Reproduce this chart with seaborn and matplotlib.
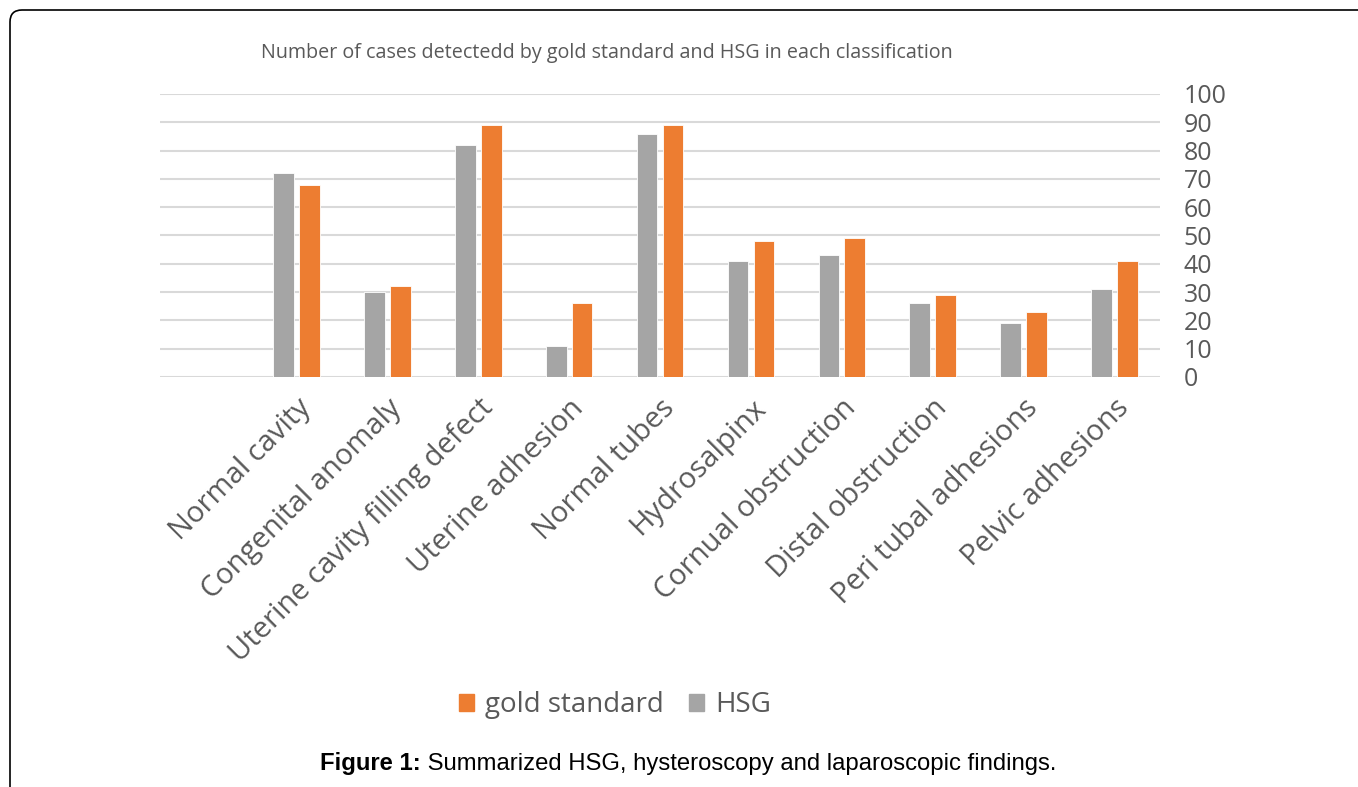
import pandas as pd
import matplotlib
matplotlib.use('Agg')
import matplotlib.pyplot as plt
import matplotlib.patches as mpatches
from matplotlib.transforms import IdentityTransform
import seaborn as sns

# Cases detected per classification
categories = ['Normal cavity', 'Congenital anomaly', 'Uterine cavity filling defect',
              'Uterine adhesion', 'Normal tubes', 'Hydrosalpinx', 'Cornual obstruction',
              'Distal obstruction', 'Peri tubal adhesions', 'Pelvic adhesions']
hsg = [72, 30, 82, 11, 86, 41, 43, 26, 19, 31]
gold_standard = [68, 32, 89, 26, 89, 48, 49, 29, 23, 41]
y_ticks = [0, 10, 20, 30, 40, 50, 60, 70, 80, 90, 100]

df = pd.DataFrame({
    'Classification': categories * 2,
    'Cases': hsg + gold_standard,
    'Method': ['HSG'] * len(categories) + ['gold standard'] * len(categories),
})

sns.set_style('white')
plt.rcParams['font.family'] = ['Open Sans', 'DejaVu Sans']

text_grey = '#595959'
colors = {'HSG': '#A5A5A5', 'gold standard': '#ED7D31'}

fig = plt.figure(figsize=(13.58, 7.87), dpi=100)
ax = fig.add_axes([160 / 1358, 1 - 377 / 787, 1000 / 1358, 283 / 787])

sns.barplot(data=df, x='Classification', y='Cases', hue='Method',
            hue_order=['HSG', 'gold standard'], palette=colors, saturation=1,
            width=0.57, gap=0.2, edgecolor='white', linewidth=0.6,
            legend=False, ax=ax)

ax.set_xlim(-1.5, len(categories) - 0.5)
ax.set_ylim(0, 100)
ax.set_yticks(y_ticks)
ax.yaxis.tick_right()
ax.grid(axis='y', color='#d9d9d9', linewidth=1.5)
ax.set_axisbelow(True)
for s in ax.spines.values():
    s.set_visible(False)
ax.tick_params(axis='y', length=0, labelsize=18, labelcolor=text_grey, pad=17)
ax.tick_params(axis='x', length=0, labelsize=21, labelcolor=text_grey, pad=12)
plt.setp(ax.get_xticklabels(), rotation=45, ha='right', rotation_mode='anchor')
ax.set_xlabel('')
ax.set_ylabel('')

fig.text(607 / 1358, 1 - 53 / 787,
         'Number of cases detectedd by gold standard and HSG in each classification',
         ha='center', va='center', fontsize=14.2, color=text_grey)

handles = [mpatches.Patch(color=colors['gold standard']), mpatches.Patch(color=colors['HSG'])]
fig.legend(handles, ['gold standard', 'HSG'], loc='center', ncol=2, frameon=False,
           bbox_to_anchor=(615 / 1358, 1 - 705 / 787), fontsize=20,
           handlelength=0.55, handleheight=0.55, handletextpad=0.4, columnspacing=0.9,
           labelcolor=text_grey)

# caption: bold label followed by regular text
cap = fig.text(320 / 1358, 1 - 770 / 787, 'Figure 1:', ha='left', va='baseline',
               fontsize=17.2, fontweight='bold', family='Liberation Sans', color='black')
ax.annotate(' Summarized HSG, hysteroscopy and laparoscopic findings.',
            xy=(1, 0), xycoords=cap, ha='left', va='bottom',
            fontsize=17.2, family='Liberation Sans', color='black', annotation_clip=False)

frame = mpatches.FancyBboxPatch((10, -60), 1420, 837,
                                boxstyle='round,pad=0,rounding_size=12',
                                transform=IdentityTransform(), facecolor='none',
                                edgecolor='black', linewidth=1.2)
fig.add_artist(frame)

fig.savefig('out.png', dpi=100)
